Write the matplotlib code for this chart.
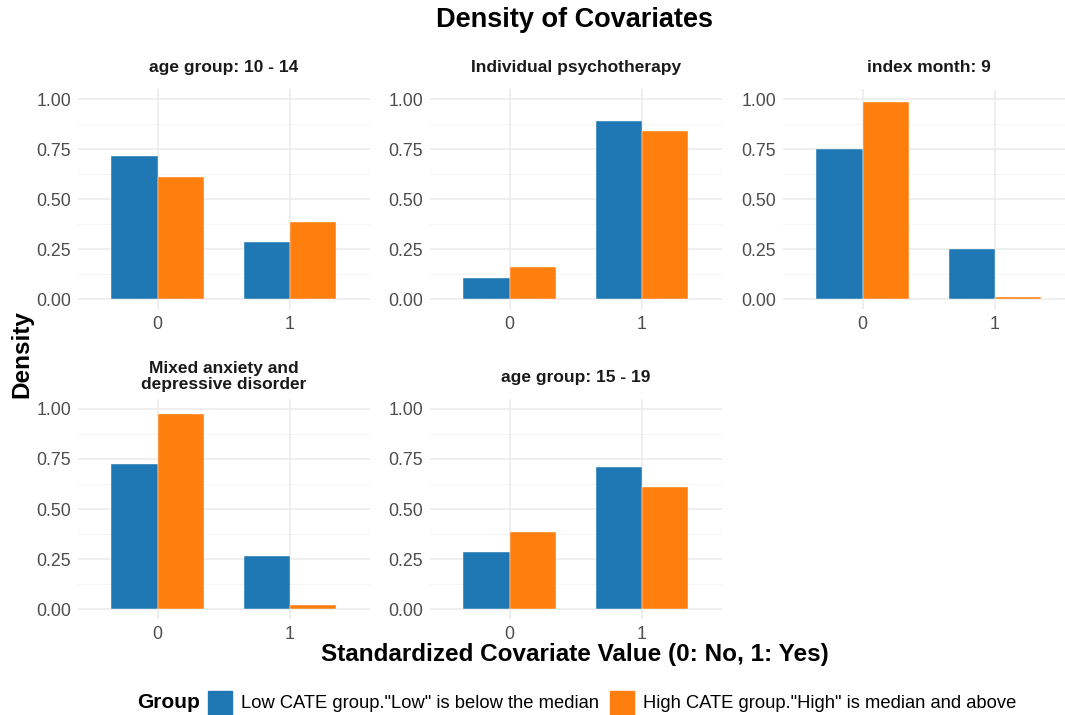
import matplotlib
matplotlib.use("Agg")
import matplotlib.pyplot as plt
from matplotlib.patches import Rectangle
import numpy as np

plt.rcParams['font.family'] = ['Liberation Sans', 'DejaVu Sans']

panel_titles = ["age group: 10 - 14", "Individual psychotherapy", "index month: 9",
                "Mixed anxiety and\ndepressive disorder", "age group: 15 - 19"]
categories = ["0", "1"]
low_values = [[0.713, 0.285], [0.105, 0.89], [0.748, 0.248], [0.727, 0.267], [0.285, 0.71]]
high_values = [[0.61, 0.385], [0.16, 0.838], [0.983, 0.012], [0.973, 0.022], [0.385, 0.61]]
group_labels = ['Low CATE group."Low" is below the median',
                'High CATE group."High" is median and above']
colors = ["#1F77B4", "#FF7F0E"]
yticks = [0.0, 0.25, 0.5, 0.75, 1.0]
ytick_labels = ["0.00", "0.25", "0.50", "0.75", "1.00"]

W, H = 1065, 715
fig = plt.figure(figsize=(W / 100, H / 100), dpi=100)

unit = 132.5
cols = [78, 430, 783]
rows = [(89, 309), (399, 619)]

def add_ax(left, right, top, bottom):
    return fig.add_axes([left / W, 1 - bottom / H, (right - left) / W, (bottom - top) / H])

bw = 0.35
for i in range(5):
    r, c = divmod(i, 3)
    left = cols[c]
    right = min(left + 2.2 * unit, W)
    top, bottom = rows[r]
    ax = add_ax(left, right, top, bottom)
    xmax = -0.6 + (right - left) / unit
    ax.set_xlim(-0.6, xmax)
    ax.set_ylim(-0.05, 1.05)
    for s in ax.spines.values():
        s.set_visible(False)
    for y in yticks:
        ax.axhline(y, color="#EBEBEB", lw=1.1, zorder=0)
    for y in [0.125, 0.375, 0.625, 0.875]:
        ax.axhline(y, color="#F2F2F2", lw=0.6, zorder=0)
    x = np.arange(len(categories))
    for xv in x:
        ax.axvline(xv, color="#EBEBEB", lw=1.1, zorder=0)
    ax.bar(x - bw / 2, low_values[i], width=bw, color=colors[0], zorder=2,
           edgecolor="white", linewidth=0.3)
    ax.bar(x + bw / 2, high_values[i], width=bw, color=colors[1], zorder=2,
           edgecolor="white", linewidth=0.3)
    ax.set_xticks(x)
    ax.set_xticklabels(categories)
    ax.set_yticks(yticks)
    ax.set_yticklabels(ytick_labels)
    ax.tick_params(length=0, labelsize=12.8, labelcolor="#4D4D4D", pad=5)
    two = "\n" in panel_titles[i]
    ax.set_title(panel_titles[i], fontsize=12.5, fontweight="bold", color="#1A1A1A",
                 pad=7 if two else 12, linespacing=1.1,
                 x=0.5 * (2.2 * unit) / (right - left))

fig.text(575 / W, 1 - 20 / H, "Density of Covariates", ha="center", va="center",
         fontsize=19.5, fontweight="bold")
fig.text(22 / W, 1 - 354 / H, "Density", ha="center", va="center", rotation=90,
         fontsize=17.5, fontweight="bold")
fig.text(575 / W, 1 - 655 / H, "Standardized Covariate Value (0: No, 1: Yes)",
         ha="center", va="center", fontsize=17.5, fontweight="bold")

# legend
ly = 1 - 703 / H
fig.text(137 / W, ly, "Group", ha="left", va="center", fontsize=15, fontweight="bold")
sq = 24
fig.patches.append(Rectangle((208 / W, (H - 703 - sq / 2) / H), sq / W, sq / H,
                             transform=fig.transFigure, color=colors[0], figure=fig))
fig.text(241 / W, ly, group_labels[0], ha="left", va="center", fontsize=13.2)
fig.patches.append(Rectangle((610 / W, (H - 703 - sq / 2) / H), sq / W, sq / H,
                             transform=fig.transFigure, color=colors[1], figure=fig))
fig.text(643 / W, ly, group_labels[1], ha="left", va="center", fontsize=13.2)

fig.savefig("out.png", dpi=100, facecolor="white")
